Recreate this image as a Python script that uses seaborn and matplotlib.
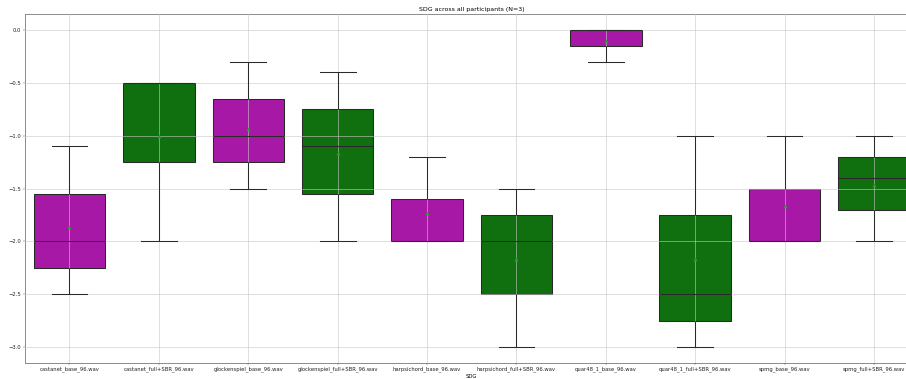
import matplotlib
matplotlib.use("Agg")
import matplotlib.pyplot as plt
import seaborn as sns
import pandas as pd

# Stimulus files and the three participants' SDG ratings for each
stimuli = [
    "castanet_base_96.wav",
    "castanet_full+SBR_96.wav",
    "glockenspiel_base_96.wav",
    "glockenspiel_full+SBR_96.wav",
    "harpsichord_base_96.wav",
    "harpsichord_full+SBR_96.wav",
    "quar48_1_base_96.wav",
    "quar48_1_full+SBR_96.wav",
    "spmg_base_96.wav",
    "spmg_full+SBR_96.wav",
]
participant_1 = [-2.5, -2.0, -1.5, -2.0, -2.0, -3.0, -0.3, -3.0, -2.0, -2.0]
participant_2 = [-2.0, -0.5, -1.0, -1.1, -2.0, -2.0, 0.0, -2.5, -2.0, -1.4]
participant_3 = [-1.1, -0.5, -0.3, -0.4, -1.2, -1.5, 0.0, -1.0, -1.0, -1.0]
box_colors = ["m", "g"] * 5

rows = []
for ratings in (participant_1, participant_2, participant_3):
    for name, value in zip(stimuli, ratings):
        rows.append({"SDG": name, "score": value})
df = pd.DataFrame(rows)

fig = plt.figure(figsize=(24, 10.04), dpi=37.75)
ax = fig.add_axes([24.8 / 906, 16 / 379, (918.7 - 24.8) / 906, (363 - 14.3) / 379])

sns.boxplot(
    data=df, x="SDG", y="score", hue="SDG", order=stimuli, hue_order=stimuli,
    palette=box_colors, legend=False, showmeans=True, linewidth=2.0,
    linecolor="#2a2a2a", ax=ax,
)

# grid sits over the box fills but under whiskers, caps, medians and means
ax.set_axisbelow(False)
ax.grid(True, color="#c8c8c8", alpha=0.6, linewidth=1.8, zorder=5)
for line in ax.lines:
    line.set_zorder(6)

for spine in ax.spines.values():
    spine.set_color("#888888")
    spine.set_linewidth(1.8)
ax.tick_params(colors="#555555", labelcolor="#222222")
ax.set_ylabel("")
ax.set_xlabel("SDG")
ax.set_title("SDG across all participants (N=3)")

fig.savefig("out.png", dpi=37.75)
